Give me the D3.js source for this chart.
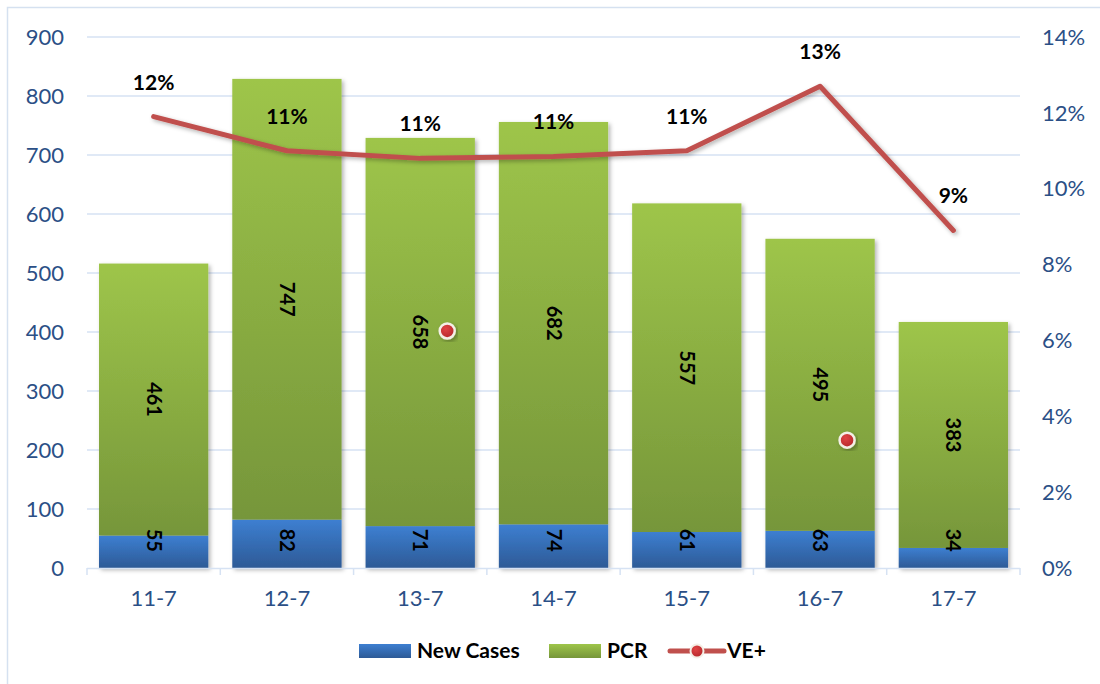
<!DOCTYPE html>
<html>
<head>
<meta charset="utf-8">
<script src="https://d3js.org/d3.v7.min.js"></script>
<style>
  body { margin: 0; background: #fff; }
  svg { display: block; font-family: Lato, "Open Sans", sans-serif; }
</style>
</head>
<body>
<svg id="chart" width="1100" height="684"></svg>
<script>
// data
const days = ["11-7", "12-7", "13-7", "14-7", "15-7", "16-7", "17-7"];
const newCases = [55, 82, 71, 74, 61, 63, 34];
const pcr = [461, 747, 658, 682, 557, 495, 383];
const vePos = [11.9, 11.0, 10.8, 10.85, 11.0, 12.7, 8.9];
const veLabels = ["12%", "11%", "11%", "11%", "11%", "13%", "9%"];
const leftTicks = [0, 100, 200, 300, 400, 500, 600, 700, 800, 900];
const rightTicks = [0, 2, 4, 6, 8, 10, 12, 14];
// two loose markers that sit on the picture
const strayMarkers = [{ day: "13-7", pct: 6.25 }, { day: "16-7", pct: 3.37 }];

const svg = d3.select("#chart");
const plotL = 87, plotR = 1020, plotT = 37, plotB = 568;

const x = d3.scaleBand().domain(days).range([plotL, plotR]).paddingInner(0.18).paddingOuter(0.09);
const xOuter = d3.scaleBand().domain(days).range([plotL, plotR]);
const y = d3.scaleLinear().domain([0, 900]).range([plotB, plotT]);
const y2 = d3.scaleLinear().domain([0, 14]).range([plotB, plotT]);

const defs = svg.append("defs");
const gBlue = defs.append("linearGradient").attr("id", "gBlue").attr("x1", 0).attr("y1", 0).attr("x2", 0).attr("y2", 1);
gBlue.append("stop").attr("offset", "0%").attr("stop-color", "#3d7fd1");
gBlue.append("stop").attr("offset", "100%").attr("stop-color", "#2d5a96");
const gGreen = defs.append("linearGradient").attr("id", "gGreen").attr("x1", 0).attr("y1", 0).attr("x2", 0).attr("y2", 1);
gGreen.append("stop").attr("offset", "0%").attr("stop-color", "#9ec54a");
gGreen.append("stop").attr("offset", "100%").attr("stop-color", "#76963a");
const gRed = defs.append("radialGradient").attr("id", "gRed").attr("cx", "40%").attr("cy", "35%").attr("r", "70%");
gRed.append("stop").attr("offset", "0%").attr("stop-color", "#e04444");
gRed.append("stop").attr("offset", "100%").attr("stop-color", "#b3262a");
const sh = defs.append("filter").attr("id", "shadow").attr("x", "-20%").attr("y", "-20%").attr("width", "140%").attr("height", "140%");
sh.append("feDropShadow").attr("dx", 2).attr("dy", 2).attr("stdDeviation", 2).attr("flood-color", "#000").attr("flood-opacity", 0.3);

// outer frame
svg.append("rect").attr("x", 7.5).attr("y", 7.5).attr("width", 1100).attr("height", 700)
  .attr("fill", "none").attr("stroke", "#d5e1f0").attr("stroke-width", 1.5);

// gridlines
svg.append("g").selectAll("line").data(leftTicks.slice(1)).join("line")
  .attr("x1", plotL).attr("x2", plotR)
  .attr("y1", d => y(d)).attr("y2", d => y(d))
  .attr("stroke", "#d6e2f3").attr("stroke-width", 1.5);

// left axis labels
svg.append("g").selectAll("text").data(leftTicks).join("text")
  .attr("x", 64).attr("y", d => y(d)).attr("dy", "0.35em")
  .attr("text-anchor", "end").attr("font-size", 22).attr("fill", "#2b4f86")
  .text(d => d);

// right axis labels
svg.append("g").selectAll("text").data(rightTicks).join("text")
  .attr("x", 1042).attr("y", d => y2(d)).attr("dy", "0.35em")
  .attr("text-anchor", "start").attr("font-size", 22).attr("fill", "#2b4f86")
  .text(d => d + "%");

// bars
const bars = svg.append("g").attr("filter", "url(#shadow)");
bars.selectAll("rect.nc").data(days).join("rect").attr("class", "nc")
  .attr("x", d => x(d)).attr("width", x.bandwidth())
  .attr("y", (d, i) => y(newCases[i])).attr("height", (d, i) => y(0) - y(newCases[i]))
  .attr("fill", "url(#gBlue)");
bars.selectAll("rect.pcr").data(days).join("rect").attr("class", "pcr")
  .attr("x", d => x(d)).attr("width", x.bandwidth())
  .attr("y", (d, i) => y(newCases[i] + pcr[i])).attr("height", (d, i) => y(newCases[i]) - y(newCases[i] + pcr[i]))
  .attr("fill", "url(#gGreen)");

// x axis
svg.append("line").attr("x1", plotL).attr("x2", plotR).attr("y1", plotB + 0.5).attr("y2", plotB + 0.5)
  .attr("stroke", "#d6e2f3").attr("stroke-width", 1.5);
svg.append("g").selectAll("line").data(days.concat([null])).join("line")
  .attr("x1", (d, i) => plotL + i * xOuter.step()).attr("x2", (d, i) => plotL + i * xOuter.step())
  .attr("y1", plotB).attr("y2", plotB + 7)
  .attr("stroke", "#d6e2f3").attr("stroke-width", 1.5);
svg.append("g").selectAll("text").data(days).join("text")
  .attr("x", d => xOuter(d) + xOuter.bandwidth() / 2).attr("y", 606)
  .attr("text-anchor", "middle").attr("font-size", 22).attr("fill", "#2b4f86")
  .text(d => d);

// segment labels (rotated)
const cx = d => x(d) + x.bandwidth() / 2;
svg.append("g").selectAll("text").data(days).join("text")
  .attr("transform", (d, i) => `translate(${cx(d)},${y(newCases[i] + pcr[i] / 2)}) rotate(90)`)
  .attr("text-anchor", "middle").attr("dy", "0.35em")
  .attr("font-size", 20).attr("font-weight", "bold").attr("fill", "#000")
  .text((d, i) => pcr[i]);
svg.append("g").selectAll("text").data(days).join("text")
  .attr("transform", (d, i) => `translate(${cx(d)},${Math.min(y(newCases[i] / 2), y(47))}) rotate(90)`)
  .attr("text-anchor", "middle").attr("dy", "0.35em")
  .attr("font-size", 20).attr("font-weight", "bold").attr("fill", "#000")
  .text((d, i) => newCases[i]);

// VE+ line
const line = d3.line().x((d, i) => cx(days[i])).y(d => y2(d));
svg.append("path").datum(vePos).attr("d", line)
  .attr("fill", "none").attr("stroke", "#c0504d").attr("stroke-width", 5)
  .attr("stroke-linejoin", "round").attr("stroke-linecap", "round")
  .attr("filter", "url(#shadow)");
svg.append("g").selectAll("text").data(vePos).join("text")
  .attr("x", (d, i) => cx(days[i])).attr("y", d => y2(d) - 27)
  .attr("text-anchor", "middle").attr("font-size", 21).attr("font-weight", "bold").attr("fill", "#000")
  .text((d, i) => veLabels[i]);

// loose markers
svg.append("g").selectAll("circle").data(strayMarkers).join("circle")
  .attr("cx", d => cx(d.day) + 27).attr("cy", d => y2(d.pct)).attr("r", 7.5)
  .attr("fill", "url(#gRed)").attr("stroke", "#f4efe6").attr("stroke-width", 2.5)
  .attr("filter", "url(#shadow)");

// legend
const lg = svg.append("g").attr("font-size", 21).attr("font-weight", "bold").attr("fill", "#000");
lg.append("rect").attr("x", 359).attr("y", 644).attr("width", 52).attr("height", 14).attr("fill", "url(#gBlue)");
lg.append("text").attr("x", 417).attr("y", 651).attr("dy", "0.35em").text("New Cases");
lg.append("rect").attr("x", 549).attr("y", 644).attr("width", 52).attr("height", 14).attr("fill", "url(#gGreen)");
lg.append("text").attr("x", 607).attr("y", 651).attr("dy", "0.35em").text("PCR");
lg.append("line").attr("x1", 670).attr("x2", 724).attr("y1", 651).attr("y2", 651)
  .attr("stroke", "#c0504d").attr("stroke-width", 5).attr("stroke-linecap", "round");
lg.append("circle").attr("cx", 697).attr("cy", 651).attr("r", 6.5)
  .attr("fill", "url(#gRed)").attr("stroke", "#f4efe6").attr("stroke-width", 2);
lg.append("text").attr("x", 727).attr("y", 651).attr("dy", "0.35em").text("VE+");
</script>
</body>
</html>
